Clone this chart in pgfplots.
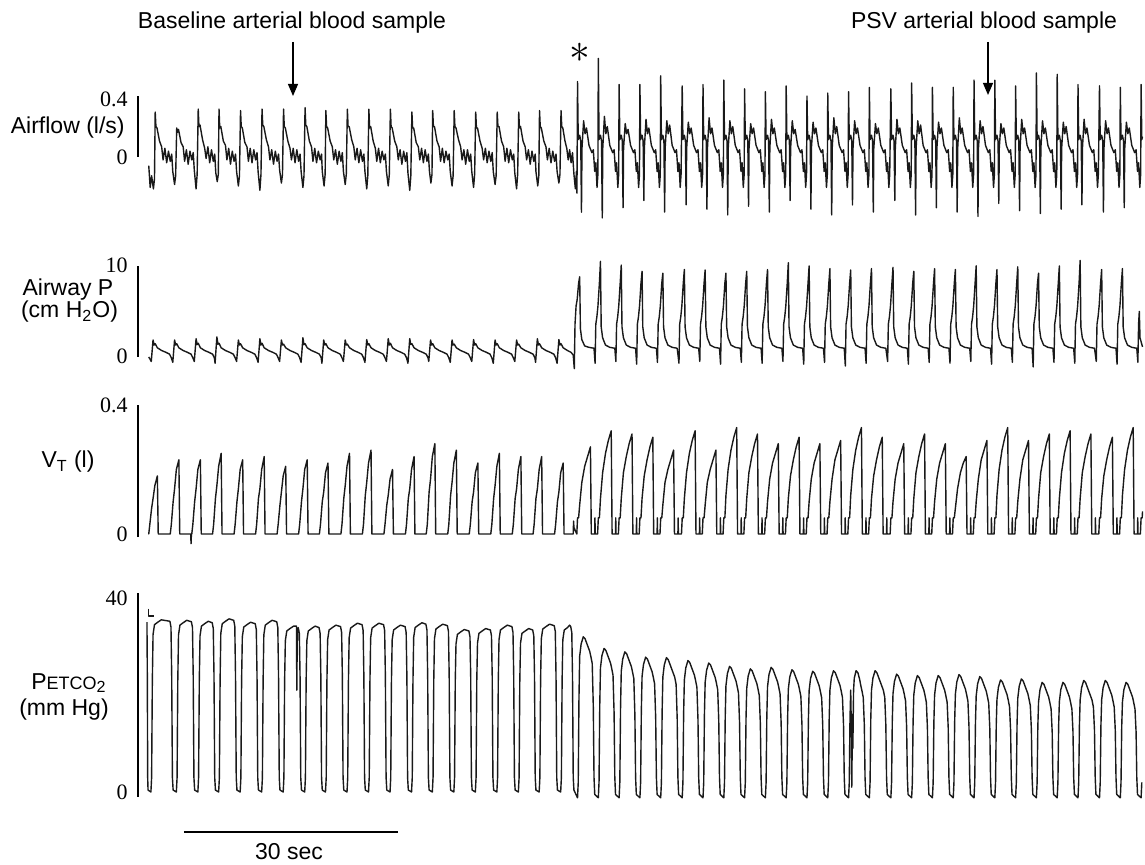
\documentclass[border=0pt]{standalone}
\usepackage{pgfplots}
\pgfplotsset{compat=1.18}
\usepackage{fontspec}
\setmainfont{Liberation Sans}
\newfontfamily\serifnum{Liberation Serif}
\usetikzlibrary{arrows.meta}

% one unit of the picture = 0.5pt = one pixel of the 1145x865 reference
\pgfplotsset{
  trace/.style={scale only axis, width=502.26pt, xmin=-1.7, xmax=138.4,
    hide axis, clip=false, anchor=south west},
  sig/.style={black!90, line width=0.7pt, line join=round, mark=none},
}
\tikzset{
  lab/.style={font=\fontsize{11.5}{13}\selectfont, inner sep=0pt},
  tk/.style={anchor=east, xshift=-5pt, inner sep=0pt, font=\serifnum\fontsize{11}{12}\selectfont},
  bar/.style={black, line width=1pt},
}

\begin{document}
\begin{tikzpicture}
\useasboundingbox (0,0) rectangle (572.5pt,432.5pt);

% ---------------- Airflow (l/s) ----------------
\begin{axis}[trace, at={(69pt,321.375pt)}, height=87pt, ymin=-0.45, ymax=0.75]
\addplot[sig] coordinates {
(-0.2,-0.06) (0.0,-0.21) (0.2,-0.13) (0.45,-0.22) (0.6,-0.15)
(0.7,0.31) (0.8,0.21) (0.95,0.2) (1.3,0.11) (1.6,0.07) (1.8,-0.02) (2.05,0.06) (2.3,-0.04) (2.55,0.04) (2.8,-0.03) (3.0,0.02) (3.15,-0.1) (3.4,-0.19) (3.55,-0.13)
(3.7,0.2) (3.8,0.17) (3.95,0.19) (4.3,0.1) (4.6,0.07) (4.8,-0.03) (5.05,0.05) (5.3,-0.05) (5.55,0.04) (5.8,-0.02) (6.0,0.03) (6.15,-0.09) (6.4,-0.22) (6.55,-0.12)
(6.7,0.33) (6.8,0.21) (6.95,0.22) (7.3,0.12) (7.6,0.06) (7.8,-0.01) (8.05,0.07) (8.3,-0.04) (8.55,0.05) (8.8,-0.03) (9.0,0.02) (9.15,-0.11) (9.35,-0.17) (9.5,-0.12)
(9.6,0.33) (9.7,0.2) (9.85,0.21) (10.2,0.11) (10.5,0.08) (10.7,-0.02) (10.95,0.06) (11.2,-0.05) (11.45,0.04) (11.7,-0.03) (11.9,0.02) (12.05,-0.1) (12.3,-0.2) (12.45,-0.13)
(12.6,0.32) (12.7,0.21) (12.85,0.2) (13.2,0.1) (13.5,0.07) (13.7,-0.03) (13.95,0.06) (14.2,-0.04) (14.45,0.05) (14.7,-0.02) (14.9,0.03) (15.05,-0.1) (15.3,-0.23) (15.45,-0.12)
(15.6,0.33) (15.7,0.22) (15.85,0.21) (16.2,0.12) (16.5,0.07) (16.7,-0.02) (16.95,0.05) (17.2,-0.05) (17.45,0.04) (17.7,-0.03) (17.9,0.02) (18.05,-0.09) (18.3,-0.18) (18.45,-0.12)
(18.6,0.33) (18.7,0.21) (18.85,0.2) (19.2,0.11) (19.5,0.06) (19.7,-0.02) (19.95,0.06) (20.2,-0.04) (20.45,0.05) (20.7,-0.03) (20.9,0.02) (21.05,-0.1) (21.3,-0.21) (21.45,-0.13)
(21.6,0.34) (21.7,0.22) (21.85,0.21) (22.2,0.11) (22.5,0.07) (22.7,-0.03) (22.95,0.06) (23.2,-0.04) (23.45,0.04) (23.7,-0.02) (23.9,0.02) (24.0,-0.1) (24.25,-0.2) (24.4,-0.12)
(24.5,0.32) (24.6,0.21) (24.75,0.2) (25.1,0.11) (25.4,0.07) (25.6,-0.02) (25.85,0.05) (26.1,-0.05) (26.35,0.04) (26.6,-0.03) (26.8,0.03) (26.95,-0.1) (27.2,-0.19) (27.35,-0.12)
(27.5,0.33) (27.6,0.21) (27.75,0.21) (28.1,0.12) (28.4,0.07) (28.6,-0.02) (28.85,0.06) (29.1,-0.04) (29.35,0.05) (29.6,-0.03) (29.8,0.02) (29.95,-0.1) (30.2,-0.22) (30.35,-0.13)
(30.5,0.33) (30.6,0.2) (30.75,0.21) (31.1,0.11) (31.4,0.06) (31.6,-0.03) (31.85,0.06) (32.1,-0.04) (32.35,0.04) (32.6,-0.02) (32.8,0.02) (32.95,-0.1) (33.2,-0.2) (33.35,-0.12)
(33.5,0.33) (33.6,0.21) (33.75,0.2) (34.1,0.11) (34.4,0.07) (34.6,-0.02) (34.85,0.05) (35.1,-0.05) (35.35,0.04) (35.6,-0.03) (35.8,0.03) (35.95,-0.11) (36.2,-0.23) (36.35,-0.13)
(36.5,0.31) (36.6,0.2) (36.75,0.2) (37.1,0.1) (37.4,0.07) (37.6,-0.02) (37.85,0.06) (38.1,-0.04) (38.35,0.05) (38.6,-0.03) (38.8,0.02) (38.95,-0.1) (39.15,-0.18) (39.3,-0.12)
(39.4,0.32) (39.5,0.21) (39.65,0.21) (40.0,0.11) (40.3,0.07) (40.5,-0.03) (40.75,0.06) (41.0,-0.04) (41.25,0.04) (41.5,-0.02) (41.7,0.02) (41.85,-0.1) (42.1,-0.2) (42.25,-0.13)
(42.4,0.32) (42.5,0.21) (42.65,0.2) (43.0,0.12) (43.3,0.07) (43.5,-0.02) (43.75,0.05) (44.0,-0.05) (44.25,0.05) (44.5,-0.03) (44.7,0.02) (44.85,-0.1) (45.1,-0.21) (45.25,-0.12)
(45.4,0.31) (45.5,0.2) (45.65,0.2) (46.0,0.11) (46.3,0.06) (46.5,-0.02) (46.75,0.06) (47.0,-0.04) (47.25,0.04) (47.5,-0.03) (47.7,0.03) (47.85,-0.1) (48.1,-0.19) (48.25,-0.13)
(48.4,0.31) (48.5,0.21) (48.65,0.21) (49.0,0.11) (49.3,0.07) (49.5,-0.03) (49.75,0.06) (50.0,-0.04) (50.25,0.05) (50.5,-0.02) (50.7,0.02) (50.85,-0.11) (51.1,-0.22) (51.25,-0.12)
(51.4,0.31) (51.5,0.2) (51.65,0.21) (52.0,0.11) (52.3,0.07) (52.5,-0.02) (52.75,0.05) (53.0,-0.05) (53.25,0.04) (53.5,-0.03) (53.7,0.02) (53.8,-0.1) (54.05,-0.2) (54.2,-0.13)
(54.3,0.32) (54.4,0.21) (54.55,0.2) (54.9,0.11) (55.2,0.07) (55.4,-0.02) (55.65,0.06) (55.9,-0.04) (56.15,0.04) (56.4,-0.03) (56.6,0.02) (56.75,-0.1) (57.0,-0.18) (57.15,-0.12)
(57.3,0.32) (57.4,0.21) (57.55,0.2) (57.85,0.11) (58.1,0.06) (58.3,-0.02) (58.5,0.05) (58.7,-0.04) (58.9,0.03) (59.1,-0.12) (59.3,-0.22) (59.45,-0.1) (59.52,-0.25)
(59.6,0.52) (59.7,0.12) (59.9,0.15) (60.05,0.11) (60.15,-0.38) (60.22,0.06) (60.45,0.25) (60.65,0.16) (60.85,0.2) (61.2,0.08) (61.6,0.03) (61.8,0.05) (62.0,-0.1) (62.15,-0.04) (62.32,-0.21) (62.44,-0.12)
(62.5,0.68) (62.6,0.12) (62.8,0.15) (62.95,0.11) (63.05,-0.42) (63.12,0.06) (63.35,0.28) (63.55,0.16) (63.75,0.21) (64.1,0.08) (64.5,0.03) (64.7,0.05) (64.9,-0.1) (65.05,-0.04) (65.22,-0.21) (65.34,-0.12)
(65.4,0.5) (65.5,0.12) (65.7,0.15) (65.85,0.11) (65.95,-0.35) (66.02,0.06) (66.25,0.23) (66.45,0.16) (66.65,0.19) (67.0,0.08) (67.4,0.03) (67.6,0.05) (67.8,-0.1) (67.95,-0.04) (68.12,-0.21) (68.24,-0.12)
(68.3,0.5) (68.4,0.12) (68.6,0.15) (68.75,0.11) (68.85,-0.3) (68.92,0.06) (69.15,0.26) (69.35,0.16) (69.55,0.2) (69.9,0.08) (70.3,0.03) (70.5,0.05) (70.7,-0.1) (70.85,-0.04) (71.02,-0.21) (71.14,-0.12)
(71.2,0.56) (71.3,0.12) (71.5,0.15) (71.65,0.11) (71.75,-0.38) (71.82,0.06) (72.05,0.25) (72.25,0.16) (72.45,0.22) (72.8,0.08) (73.2,0.03) (73.4,0.05) (73.6,-0.1) (73.75,-0.04) (73.92,-0.21) (74.04,-0.12)
(74.2,0.49) (74.3,0.12) (74.5,0.15) (74.65,0.11) (74.75,-0.33) (74.82,0.06) (75.05,0.24) (75.25,0.16) (75.45,0.2) (75.8,0.08) (76.2,0.03) (76.4,0.05) (76.6,-0.1) (76.75,-0.04) (76.92,-0.21) (77.04,-0.12)
(77.1,0.5) (77.2,0.12) (77.4,0.15) (77.55,0.11) (77.65,-0.36) (77.72,0.06) (77.95,0.27) (78.15,0.16) (78.35,0.2) (78.7,0.08) (79.1,0.03) (79.3,0.05) (79.5,-0.1) (79.65,-0.04) (79.82,-0.21) (79.94,-0.12)
(80.0,0.53) (80.1,0.12) (80.3,0.15) (80.45,0.11) (80.55,-0.4) (80.62,0.06) (80.85,0.25) (81.05,0.16) (81.25,0.21) (81.6,0.08) (82.0,0.03) (82.2,0.05) (82.4,-0.1) (82.55,-0.04) (82.72,-0.21) (82.84,-0.12)
(82.9,0.47) (83.0,0.12) (83.2,0.15) (83.35,0.11) (83.45,-0.34) (83.52,0.06) (83.75,0.23) (83.95,0.16) (84.15,0.2) (84.5,0.08) (84.9,0.03) (85.1,0.05) (85.3,-0.1) (85.45,-0.04) (85.62,-0.21) (85.74,-0.12)
(85.8,0.45) (85.9,0.12) (86.1,0.15) (86.25,0.11) (86.35,-0.38) (86.42,0.06) (86.65,0.26) (86.85,0.16) (87.05,0.2) (87.4,0.08) (87.8,0.03) (88.0,0.05) (88.2,-0.1) (88.35,-0.04) (88.52,-0.21) (88.64,-0.12)
(88.7,0.49) (88.8,0.12) (89.0,0.15) (89.15,0.11) (89.25,-0.3) (89.32,0.06) (89.55,0.25) (89.75,0.16) (89.95,0.19) (90.3,0.08) (90.7,0.03) (90.9,0.05) (91.1,-0.1) (91.25,-0.04) (91.42,-0.21) (91.54,-0.12)
(91.6,0.42) (91.7,0.12) (91.9,0.15) (92.05,0.11) (92.15,-0.36) (92.22,0.06) (92.45,0.24) (92.65,0.16) (92.85,0.2) (93.2,0.08) (93.6,0.03) (93.8,0.05) (94.0,-0.1) (94.15,-0.04) (94.32,-0.21) (94.44,-0.12)
(94.5,0.44) (94.6,0.12) (94.8,0.15) (94.95,0.11) (95.05,-0.4) (95.12,0.06) (95.35,0.27) (95.55,0.16) (95.75,0.21) (96.1,0.08) (96.5,0.03) (96.7,0.05) (96.9,-0.1) (97.05,-0.04) (97.22,-0.21) (97.34,-0.12)
(97.4,0.45) (97.5,0.12) (97.7,0.15) (97.85,0.11) (97.95,-0.33) (98.02,0.06) (98.25,0.25) (98.45,0.16) (98.65,0.2) (99.0,0.08) (99.4,0.03) (99.6,0.05) (99.8,-0.1) (99.95,-0.04) (100.12,-0.21) (100.24,-0.12)
(100.3,0.48) (100.4,0.12) (100.6,0.15) (100.75,0.11) (100.85,-0.38) (100.92,0.06) (101.15,0.23) (101.35,0.16) (101.55,0.2) (101.9,0.08) (102.3,0.03) (102.5,0.05) (102.7,-0.1) (102.85,-0.04) (103.02,-0.21) (103.14,-0.12)
(103.3,0.47) (103.4,0.12) (103.6,0.15) (103.75,0.11) (103.85,-0.3) (103.92,0.06) (104.15,0.26) (104.35,0.16) (104.55,0.2) (104.9,0.08) (105.3,0.03) (105.5,0.05) (105.7,-0.1) (105.85,-0.04) (106.02,-0.21) (106.14,-0.12)
(106.2,0.51) (106.3,0.12) (106.5,0.15) (106.65,0.11) (106.75,-0.4) (106.82,0.06) (107.05,0.25) (107.25,0.16) (107.45,0.22) (107.8,0.08) (108.2,0.03) (108.4,0.05) (108.6,-0.1) (108.75,-0.04) (108.92,-0.21) (109.04,-0.12)
(109.1,0.48) (109.2,0.12) (109.4,0.15) (109.55,0.11) (109.65,-0.35) (109.72,0.06) (109.95,0.24) (110.15,0.16) (110.35,0.2) (110.7,0.08) (111.1,0.03) (111.3,0.05) (111.5,-0.1) (111.65,-0.04) (111.82,-0.21) (111.94,-0.12)
(112.0,0.48) (112.1,0.12) (112.3,0.15) (112.45,0.11) (112.55,-0.38) (112.62,0.06) (112.85,0.27) (113.05,0.16) (113.25,0.2) (113.6,0.08) (114.0,0.03) (114.2,0.05) (114.4,-0.1) (114.55,-0.04) (114.72,-0.21) (114.84,-0.12)
(114.9,0.53) (115.0,0.12) (115.2,0.15) (115.35,0.11) (115.45,-0.41) (115.52,0.06) (115.75,0.25) (115.95,0.16) (116.15,0.21) (116.5,0.08) (116.9,0.03) (117.1,0.05) (117.3,-0.1) (117.45,-0.04) (117.62,-0.21) (117.74,-0.12)
(117.8,0.53) (117.9,0.12) (118.1,0.15) (118.25,0.11) (118.35,-0.32) (118.42,0.06) (118.65,0.23) (118.85,0.16) (119.05,0.2) (119.4,0.08) (119.8,0.03) (120.0,0.05) (120.2,-0.1) (120.35,-0.04) (120.52,-0.21) (120.64,-0.12)
(120.7,0.49) (120.8,0.12) (121.0,0.15) (121.15,0.11) (121.25,-0.37) (121.32,0.06) (121.55,0.26) (121.75,0.16) (121.95,0.2) (122.3,0.08) (122.7,0.03) (122.9,0.05) (123.1,-0.1) (123.25,-0.04) (123.42,-0.21) (123.54,-0.12)
(123.6,0.58) (123.7,0.12) (123.9,0.15) (124.05,0.11) (124.15,-0.39) (124.22,0.06) (124.45,0.25) (124.65,0.16) (124.85,0.2) (125.2,0.08) (125.6,0.03) (125.8,0.05) (126.0,-0.1) (126.15,-0.04) (126.32,-0.21) (126.44,-0.12)
(126.5,0.57) (126.6,0.12) (126.8,0.15) (126.95,0.11) (127.05,-0.36) (127.12,0.06) (127.35,0.24) (127.55,0.16) (127.75,0.21) (128.1,0.08) (128.5,0.03) (128.7,0.05) (128.9,-0.1) (129.05,-0.04) (129.22,-0.21) (129.34,-0.12)
(129.4,0.5) (129.5,0.12) (129.7,0.15) (129.85,0.11) (129.95,-0.33) (130.02,0.06) (130.25,0.26) (130.45,0.16) (130.65,0.2) (131.0,0.08) (131.4,0.03) (131.6,0.05) (131.8,-0.1) (131.95,-0.04) (132.12,-0.21) (132.24,-0.12)
(132.4,0.49) (132.5,0.12) (132.7,0.15) (132.85,0.11) (132.95,-0.38) (133.02,0.06) (133.25,0.25) (133.45,0.16) (133.65,0.2) (134.0,0.08) (134.4,0.03) (134.6,0.05) (134.8,-0.1) (134.95,-0.04) (135.12,-0.21) (135.24,-0.12)
(135.3,0.48) (135.4,0.12) (135.6,0.15) (135.75,0.11) (135.85,-0.35) (135.92,0.06) (136.15,0.24) (136.35,0.16) (136.55,0.2) (136.9,0.08) (137.3,0.03) (137.5,0.05) (137.7,-0.1) (137.85,-0.04) (138.02,-0.21) (138.14,-0.12)
(138.2,0.5) (138.3,0.12) (138.4,0.14)
};
\draw[bar] (axis cs:-1.7,0) -- (axis cs:-1.7,0.42);
\node[tk] at (axis cs:-1.7,0.4) {0.4};
\node[tk] at (axis cs:-1.7,0) {0};
\end{axis}

% ---------------- Airway P (cm H2O) ----------------
\begin{axis}[trace, at={(69pt,247.22pt)}, height=57.33pt, ymin=-1.6, ymax=11]
\addplot[sig] coordinates {
(-0.2,-0.1) (0.15,-0.6) (0.4,1.76) (0.55,1.2) (0.7,1.35) (1.0,0.9) (1.6,0.6) (2.2,0.4) (2.7,0.2) (2.95,-0.2)
(3.15,-0.7) (3.4,1.76) (3.55,1.2) (3.7,1.35) (4.0,0.9) (4.6,0.6) (5.2,0.4) (5.7,0.2) (5.95,-0.2)
(6.15,-0.6) (6.4,1.9) (6.55,1.25) (6.7,1.4) (7.0,0.9) (7.6,0.6) (8.2,0.4) (8.7,0.2) (8.95,-0.2)
(9.05,-0.8) (9.3,2.1) (9.45,1.3) (9.6,1.4) (9.9,0.9) (10.5,0.6) (11.1,0.4) (11.6,0.2) (11.85,-0.2)
(12.05,-0.6) (12.3,1.76) (12.45,1.2) (12.6,1.35) (12.9,0.9) (13.5,0.6) (14.1,0.4) (14.6,0.2) (14.85,-0.2)
(15.05,-0.7) (15.3,1.9) (15.45,1.2) (15.6,1.4) (15.9,0.9) (16.5,0.6) (17.1,0.4) (17.6,0.2) (17.85,-0.2)
(18.05,-0.6) (18.3,1.76) (18.45,1.2) (18.6,1.3) (18.9,0.9) (19.5,0.6) (20.1,0.4) (20.6,0.2) (20.85,-0.2)
(21.05,-0.7) (21.3,2.0) (21.45,1.25) (21.6,1.35) (21.9,0.9) (22.5,0.6) (23.1,0.4) (23.6,0.2) (23.85,-0.2)
(23.95,-0.8) (24.2,1.76) (24.35,1.2) (24.5,1.35) (24.8,0.9) (25.4,0.6) (26.0,0.4) (26.5,0.2) (26.75,-0.2)
(26.95,-0.6) (27.2,1.76) (27.35,1.2) (27.5,1.3) (27.8,0.9) (28.4,0.6) (29.0,0.4) (29.5,0.2) (29.75,-0.2)
(29.95,-0.7) (30.2,1.8) (30.35,1.2) (30.5,1.35) (30.8,0.9) (31.4,0.6) (32.0,0.4) (32.5,0.2) (32.75,-0.2)
(32.95,-0.6) (33.2,1.9) (33.35,1.2) (33.5,1.4) (33.8,0.9) (34.4,0.6) (35.0,0.4) (35.5,0.2) (35.75,-0.2)
(35.95,-0.8) (36.2,1.9) (36.35,1.25) (36.5,1.35) (36.8,0.9) (37.4,0.6) (38.0,0.4) (38.5,0.2) (38.75,-0.2)
(38.85,-0.6) (39.1,1.76) (39.25,1.2) (39.4,1.35) (39.7,0.9) (40.3,0.6) (40.9,0.4) (41.4,0.2) (41.65,-0.2)
(41.85,-0.7) (42.1,1.76) (42.25,1.2) (42.4,1.3) (42.7,0.9) (43.3,0.6) (43.9,0.4) (44.4,0.2) (44.65,-0.2)
(44.85,-0.6) (45.1,1.8) (45.25,1.2) (45.4,1.35) (45.7,0.9) (46.3,0.6) (46.9,0.4) (47.4,0.2) (47.65,-0.2)
(47.85,-0.8) (48.1,1.76) (48.25,1.2) (48.4,1.35) (48.7,0.9) (49.3,0.6) (49.9,0.4) (50.4,0.2) (50.65,-0.2)
(50.85,-0.6) (51.1,1.76) (51.25,1.2) (51.4,1.3) (51.7,0.9) (52.3,0.6) (52.9,0.4) (53.4,0.2) (53.65,-0.2)
(53.75,-0.7) (54.0,1.9) (54.15,1.2) (54.3,1.35) (54.6,0.9) (55.2,0.6) (55.8,0.4) (56.3,0.2) (56.55,-0.2)
(56.75,-0.8) (57.0,1.8) (57.15,1.2) (57.3,1.35) (57.6,0.9) (58.2,0.6) (58.7,0.4) (59.0,0.1)
(59.15,-1.4) (59.25,3.5) (59.4,5.5) (59.55,6.2) (59.75,8.0) (59.9,8.7) (60.0,3.0) (60.2,1.8) (60.6,1.1) (61.2,0.95) (61.9,0.85)
(62.05,-0.8) (62.15,3.5) (62.3,4.3) (62.45,5.5) (62.65,8.0) (62.8,10.4) (62.9,3.2) (63.1,2.0) (63.5,1.2) (64.1,0.95) (64.8,0.85)
(64.95,-0.6) (65.05,3.5) (65.2,4.3) (65.35,5.5) (65.55,8.0) (65.7,10.0) (65.8,3.2) (66.0,2.0) (66.4,1.2) (67.0,0.95) (67.7,0.85)
(67.85,-0.9) (67.95,3.5) (68.1,4.3) (68.25,5.5) (68.45,8.0) (68.6,9.3) (68.7,3.2) (68.9,2.0) (69.3,1.2) (69.9,0.95) (70.6,0.85)
(70.75,-0.7) (70.85,3.5) (71.0,4.3) (71.15,5.5) (71.35,8.0) (71.5,9.1) (71.6,3.2) (71.8,2.0) (72.2,1.2) (72.8,0.95) (73.5,0.85)
(73.75,-0.8) (73.85,3.5) (74.0,4.3) (74.15,5.5) (74.35,8.0) (74.5,9.5) (74.6,3.2) (74.8,2.0) (75.2,1.2) (75.8,0.95) (76.5,0.85)
(76.65,-0.6) (76.75,3.5) (76.9,4.3) (77.05,5.5) (77.25,8.0) (77.4,9.45) (77.5,3.2) (77.7,2.0) (78.1,1.2) (78.7,0.95) (79.4,0.85)
(79.55,-0.9) (79.65,3.5) (79.8,4.3) (79.95,5.5) (80.15,8.0) (80.3,9.1) (80.4,3.2) (80.6,2.0) (81.0,1.2) (81.6,0.95) (82.3,0.85)
(82.45,-0.7) (82.55,3.5) (82.7,4.3) (82.85,5.5) (83.05,8.0) (83.2,9.3) (83.3,3.2) (83.5,2.0) (83.9,1.2) (84.5,0.95) (85.2,0.85)
(85.35,-0.8) (85.45,3.5) (85.6,4.3) (85.75,5.5) (85.95,8.0) (86.1,9.5) (86.2,3.2) (86.4,2.0) (86.8,1.2) (87.4,0.95) (88.1,0.85)
(88.25,-0.6) (88.35,3.5) (88.5,4.3) (88.65,5.5) (88.85,8.0) (89.0,10.25) (89.1,3.2) (89.3,2.0) (89.7,1.2) (90.3,0.95) (91.0,0.85)
(91.15,-0.9) (91.25,3.5) (91.4,4.3) (91.55,5.5) (91.75,8.0) (91.9,9.9) (92.0,3.2) (92.2,2.0) (92.6,1.2) (93.2,0.95) (93.9,0.85)
(94.05,-0.7) (94.15,3.5) (94.3,4.3) (94.45,5.5) (94.65,8.0) (94.8,9.6) (94.9,3.2) (95.1,2.0) (95.5,1.2) (96.1,0.95) (96.8,0.85)
(96.95,-1.1) (97.05,3.5) (97.2,4.3) (97.35,5.5) (97.55,8.0) (97.7,9.45) (97.8,3.2) (98.0,2.0) (98.4,1.2) (99.0,0.95) (99.7,0.85)
(99.85,-0.8) (99.95,3.5) (100.1,4.3) (100.25,5.5) (100.45,8.0) (100.6,9.6) (100.7,3.2) (100.9,2.0) (101.3,1.2) (101.9,0.95) (102.6,0.85)
(102.85,-0.6) (102.95,3.5) (103.1,4.3) (103.25,5.5) (103.45,8.0) (103.6,9.75) (103.7,3.2) (103.9,2.0) (104.3,1.2) (104.9,0.95) (105.6,0.85)
(105.75,-0.9) (105.85,3.5) (106.0,4.3) (106.15,5.5) (106.35,8.0) (106.5,9.3) (106.6,3.2) (106.8,2.0) (107.2,1.2) (107.8,0.95) (108.5,0.85)
(108.65,-0.7) (108.75,3.5) (108.9,4.3) (109.05,5.5) (109.25,8.0) (109.4,9.6) (109.5,3.2) (109.7,2.0) (110.1,1.2) (110.7,0.95) (111.4,0.85)
(111.55,-0.8) (111.65,3.5) (111.8,4.3) (111.95,5.5) (112.15,8.0) (112.3,9.5) (112.4,3.2) (112.6,2.0) (113.0,1.2) (113.6,0.95) (114.3,0.85)
(114.45,-0.6) (114.55,3.5) (114.7,4.3) (114.85,5.5) (115.05,8.0) (115.2,9.9) (115.3,3.2) (115.5,2.0) (115.9,1.2) (116.5,0.95) (117.2,0.85)
(117.35,-0.9) (117.45,3.5) (117.6,4.3) (117.75,5.5) (117.95,8.0) (118.1,9.5) (118.2,3.2) (118.4,2.0) (118.8,1.2) (119.4,0.95) (120.1,0.85)
(120.25,-0.7) (120.35,3.5) (120.5,4.3) (120.65,5.5) (120.85,8.0) (121.0,9.8) (121.1,3.2) (121.3,2.0) (121.7,1.2) (122.3,0.95) (123.0,0.85)
(123.15,-1.2) (123.25,3.5) (123.4,4.3) (123.55,5.5) (123.75,8.0) (123.9,9.1) (124.0,3.2) (124.2,2.0) (124.6,1.2) (125.2,0.95) (125.9,0.85)
(126.05,-0.7) (126.15,3.5) (126.3,4.3) (126.45,5.5) (126.65,8.0) (126.8,9.9) (126.9,3.2) (127.1,2.0) (127.5,1.2) (128.1,0.95) (128.8,0.85)
(128.95,-0.8) (129.05,3.5) (129.2,4.3) (129.35,5.5) (129.55,8.0) (129.7,10.5) (129.8,3.2) (130.0,2.0) (130.4,1.2) (131.0,0.95) (131.7,0.85)
(131.95,-0.6) (132.05,3.5) (132.2,4.3) (132.35,5.5) (132.55,8.0) (132.7,9.5) (132.8,3.2) (133.0,2.0) (133.4,1.2) (134.0,0.95) (134.7,0.85)
(134.85,-0.9) (134.95,3.5) (135.1,4.3) (135.25,5.5) (135.45,8.0) (135.6,9.6) (135.7,3.2) (135.9,2.0) (136.3,1.2) (136.9,0.95) (137.6,0.85)
(137.75,-0.7) (137.85,3.5) (137.95,4.9) (138.05,2.0) (138.4,1.0)
};
\draw[bar] (axis cs:-1.7,-0.1) -- (axis cs:-1.7,9.9);
\node[tk] at (axis cs:-1.7,10) {10};
\node[tk] at (axis cs:-1.7,0) {0};
\end{axis}

% ---------------- VT (l) ----------------
\begin{axis}[trace, at={(69pt,157.44pt)}, height=75.79pt, ymin=-0.05, ymax=0.42]
\addplot[sig] coordinates {
(-0.25,0) (-0.2,0) (-0.05,0.03) (0.2,0.08) (0.4,0.11) (0.65,0.15) (1.0,0.18) (1.12,0)
(2.8,0) (2.95,0.03) (3.2,0.1) (3.4,0.14) (3.65,0.2) (4.0,0.23) (4.12,0)
(5.65,0) (5.7,-0.03) (5.75,0) (5.8,0) (5.95,0.03) (6.2,0.1) (6.4,0.14) (6.65,0.2) (7.0,0.23) (7.12,0)
(8.7,0) (8.85,0.03) (9.1,0.11) (9.3,0.15) (9.55,0.21) (9.9,0.25) (10.02,0)
(11.7,0) (11.85,0.03) (12.1,0.1) (12.3,0.14) (12.55,0.2) (12.9,0.23) (13.02,0)
(14.7,0) (14.85,0.03) (15.1,0.11) (15.3,0.14) (15.55,0.2) (15.9,0.24) (16.02,0)
(17.7,0) (17.85,0.03) (18.1,0.09) (18.3,0.13) (18.55,0.18) (18.9,0.21) (19.02,0)
(20.7,0) (20.85,0.03) (21.1,0.1) (21.3,0.14) (21.55,0.2) (21.9,0.23) (22.02,0)
(23.6,0) (23.75,0.03) (24.0,0.1) (24.2,0.13) (24.45,0.19) (24.8,0.22) (24.92,0)
(26.6,0) (26.75,0.03) (27.0,0.11) (27.2,0.15) (27.45,0.21) (27.8,0.25) (27.92,0)
(29.6,0) (29.75,0.03) (30.0,0.12) (30.2,0.16) (30.45,0.22) (30.8,0.26) (30.92,0)
(32.6,0) (32.75,0.03) (33.0,0.09) (33.2,0.12) (33.45,0.17) (33.8,0.2) (33.92,0)
(35.6,0) (35.75,0.03) (36.0,0.11) (36.2,0.14) (36.45,0.2) (36.8,0.24) (36.92,0)
(38.5,0) (38.65,0.03) (38.9,0.13) (39.1,0.17) (39.35,0.24) (39.7,0.28) (39.82,0)
(41.5,0) (41.65,0.03) (41.9,0.12) (42.1,0.16) (42.35,0.22) (42.7,0.26) (42.82,0)
(44.5,0) (44.65,0.03) (44.9,0.1) (45.1,0.13) (45.35,0.19) (45.7,0.22) (45.82,0)
(47.5,0) (47.65,0.03) (47.9,0.11) (48.1,0.15) (48.35,0.21) (48.7,0.25) (48.82,0)
(50.5,0) (50.65,0.03) (50.9,0.11) (51.1,0.14) (51.35,0.2) (51.7,0.24) (51.82,0)
(53.4,0) (53.55,0.03) (53.8,0.11) (54.0,0.14) (54.25,0.2) (54.6,0.24) (54.72,0)
(56.4,0) (56.55,0.03) (56.8,0.1) (57.0,0.13) (57.25,0.19) (57.6,0.22) (57.72,0)
(59.0,0) (59.05,0.04) (59.1,0.02)
(59.5,0) (59.6,0.05) (59.75,0.05) (59.9,0.09) (60.2,0.16) (60.6,0.21) (61.0,0.24) (61.4,0.27) (61.52,0) (62.0,0) (62.03,0.05) (62.07,0)
(62.4,0) (62.5,0.05) (62.65,0.05) (62.8,0.11) (63.1,0.19) (63.5,0.25) (63.9,0.29) (64.3,0.32) (64.42,0) (64.9,0) (64.93,0.05) (64.97,0)
(65.3,0) (65.4,0.05) (65.55,0.05) (65.7,0.11) (66.0,0.19) (66.4,0.24) (66.8,0.28) (67.2,0.31) (67.32,0) (67.8,0) (67.83,0.05) (67.87,0)
(68.2,0) (68.3,0.05) (68.45,0.05) (68.6,0.11) (68.9,0.18) (69.3,0.23) (69.7,0.27) (70.1,0.3) (70.22,0) (70.7,0) (70.73,0.05) (70.77,0)
(71.1,0) (71.2,0.05) (71.35,0.05) (71.5,0.09) (71.8,0.16) (72.2,0.2) (72.6,0.23) (73.0,0.26) (73.12,0) (73.6,0) (73.63,0.05) (73.67,0)
(74.1,0) (74.2,0.05) (74.35,0.05) (74.5,0.11) (74.8,0.19) (75.2,0.25) (75.6,0.29) (76.0,0.32) (76.12,0) (76.6,0) (76.63,0.05) (76.67,0)
(77.0,0) (77.1,0.05) (77.25,0.05) (77.4,0.09) (77.7,0.16) (78.1,0.2) (78.5,0.23) (78.9,0.26) (79.02,0) (79.5,0) (79.53,0.05) (79.57,0)
(79.9,0) (80.0,0.05) (80.15,0.05) (80.3,0.12) (80.6,0.2) (81.0,0.26) (81.4,0.3) (81.8,0.33) (81.92,0) (82.4,0) (82.43,0.05) (82.47,0)
(82.8,0) (82.9,0.05) (83.05,0.05) (83.2,0.11) (83.5,0.19) (83.9,0.24) (84.3,0.28) (84.7,0.31) (84.82,0) (85.3,0) (85.33,0.05) (85.37,0)
(85.7,0) (85.8,0.05) (85.95,0.05) (86.1,0.1) (86.4,0.17) (86.8,0.22) (87.2,0.25) (87.6,0.28) (87.72,0) (88.2,0) (88.23,0.05) (88.27,0)
(88.6,0) (88.7,0.05) (88.85,0.05) (89.0,0.11) (89.3,0.18) (89.7,0.23) (90.1,0.27) (90.5,0.3) (90.62,0) (91.1,0) (91.13,0.05) (91.17,0)
(91.5,0) (91.6,0.05) (91.75,0.05) (91.9,0.1) (92.2,0.17) (92.6,0.22) (93.0,0.25) (93.4,0.28) (93.52,0) (94.0,0) (94.03,0.05) (94.07,0)
(94.4,0) (94.5,0.05) (94.65,0.05) (94.8,0.1) (95.1,0.17) (95.5,0.23) (95.9,0.26) (96.3,0.29) (96.42,0) (96.9,0) (96.93,0.05) (96.97,0)
(97.3,0) (97.4,0.05) (97.55,0.05) (97.7,0.12) (98.0,0.2) (98.4,0.26) (98.8,0.3) (99.2,0.33) (99.32,0) (99.8,0) (99.83,0.05) (99.87,0)
(100.2,0) (100.3,0.05) (100.45,0.05) (100.6,0.11) (100.9,0.18) (101.3,0.23) (101.7,0.27) (102.1,0.3) (102.22,0) (102.7,0) (102.73,0.05) (102.77,0)
(103.2,0) (103.3,0.05) (103.45,0.05) (103.6,0.1) (103.9,0.17) (104.3,0.22) (104.7,0.25) (105.1,0.28) (105.22,0) (105.7,0) (105.73,0.05) (105.77,0)
(106.1,0) (106.2,0.05) (106.35,0.05) (106.5,0.11) (106.8,0.19) (107.2,0.24) (107.6,0.28) (108.0,0.31) (108.12,0) (108.6,0) (108.63,0.05) (108.67,0)
(109.0,0) (109.1,0.05) (109.25,0.05) (109.4,0.1) (109.7,0.17) (110.1,0.22) (110.5,0.25) (110.9,0.28) (111.02,0) (111.5,0) (111.53,0.05) (111.57,0)
(111.9,0) (112.0,0.05) (112.15,0.05) (112.3,0.08) (112.6,0.14) (113.0,0.19) (113.4,0.22) (113.8,0.24) (113.92,0) (114.4,0) (114.43,0.05) (114.47,0)
(114.8,0) (114.9,0.05) (115.05,0.05) (115.2,0.1) (115.5,0.17) (115.9,0.23) (116.3,0.26) (116.7,0.29) (116.82,0) (117.3,0) (117.33,0.05) (117.37,0)
(117.7,0) (117.8,0.05) (117.95,0.05) (118.1,0.12) (118.4,0.2) (118.8,0.26) (119.2,0.3) (119.6,0.33) (119.72,0) (120.2,0) (120.23,0.05) (120.27,0)
(120.6,0) (120.7,0.05) (120.85,0.05) (121.0,0.1) (121.3,0.17) (121.7,0.23) (122.1,0.26) (122.5,0.29) (122.62,0) (123.1,0) (123.13,0.05) (123.17,0)
(123.5,0) (123.6,0.05) (123.75,0.05) (123.9,0.11) (124.2,0.19) (124.6,0.24) (125.0,0.28) (125.4,0.31) (125.52,0) (126.0,0) (126.03,0.05) (126.07,0)
(126.4,0) (126.5,0.05) (126.65,0.05) (126.8,0.11) (127.1,0.19) (127.5,0.25) (127.9,0.29) (128.3,0.32) (128.42,0) (128.9,0) (128.93,0.05) (128.97,0)
(129.3,0) (129.4,0.05) (129.55,0.05) (129.7,0.11) (130.0,0.19) (130.4,0.24) (130.8,0.28) (131.2,0.31) (131.32,0) (131.8,0) (131.83,0.05) (131.87,0)
(132.3,0) (132.4,0.05) (132.55,0.05) (132.7,0.11) (133.0,0.18) (133.4,0.23) (133.8,0.27) (134.2,0.3) (134.32,0) (134.8,0) (134.83,0.05) (134.87,0)
(135.2,0) (135.3,0.05) (135.45,0.05) (135.6,0.12) (135.9,0.2) (136.3,0.26) (136.7,0.3) (137.1,0.33) (137.22,0) (137.7,0) (137.73,0.05) (137.77,0)
(138.1,0) (138.2,0.05) (138.35,0.05) (138.4,0.07)
};
\draw[bar] (axis cs:-1.7,-0.01) -- (axis cs:-1.7,0.4);
\node[tk] at (axis cs:-1.7,0.4) {0.4};
\node[tk] at (axis cs:-1.7,0) {0};
\end{axis}

% ---------------- PETCO2 (mm Hg) ----------------
\begin{axis}[trace, at={(69pt,29.225pt)}, height=106.7pt, ymin=-3, ymax=41]
\addplot[sig] coordinates {
(-0.45,35.0) (-0.4,24) (-0.35,3) (-0.3,0.4) (0.1,0.0) (0.2,3) (0.3,23) (0.4,32.5) (0.6,34.5) (1.05,35.0) (1.55,35.5)
(2.75,35.2) (2.9,34.0) (3.0,24) (3.1,3) (3.2,0.4) (3.65,0) (3.75,3) (3.85,23) (3.95,32.4) (4.15,34.4) (4.6,34.9) (5.1,35.4)
(5.75,35.1) (5.9,33.9) (6.0,24) (6.1,3) (6.2,0.4) (6.65,0) (6.75,3) (6.85,23) (6.95,32.2) (7.15,34.2) (7.6,34.7) (8.1,35.2)
(8.65,34.9) (8.8,33.7) (8.9,24) (9.0,3) (9.1,0.4) (9.55,0) (9.65,3) (9.75,23) (9.85,32.7) (10.05,34.7) (10.5,35.2) (11.0,35.7)
(11.65,35.4) (11.8,34.2) (11.9,24) (12.0,3) (12.1,0.4) (12.55,0) (12.65,3) (12.75,23) (12.85,32.0) (13.05,34.0) (13.5,34.5) (14.0,35.0)
(14.65,34.7) (14.8,33.5) (14.9,24) (15.0,3) (15.1,0.4) (15.55,0) (15.65,3) (15.75,23) (15.85,32.4) (16.05,34.4) (16.5,34.9) (17.0,35.4)
(17.65,35.1) (17.8,33.9) (17.9,24) (18.0,3) (18.1,0.4) (18.55,0) (18.65,3) (18.75,23) (18.85,31.2) (19.05,33.2) (19.5,33.7) (20.0,34.2)
(20.4,34.2) (20.45,21) (20.5,30) (20.55,33.5) (20.65,33.9) (20.8,32.7) (20.9,24) (21.0,3) (21.1,0.4) (21.55,0) (21.65,3) (21.75,23) (21.85,31.2) (22.05,33.2) (22.5,33.7) (23.0,34.2)
(23.55,33.9) (23.7,32.7) (23.8,24) (23.9,3) (24.0,0.4) (24.45,0) (24.55,3) (24.65,23) (24.75,31.4) (24.95,33.4) (25.4,33.9) (25.9,34.4)
(26.55,34.1) (26.7,32.9) (26.8,24) (26.9,3) (27.0,0.4) (27.45,0) (27.55,3) (27.65,23) (27.75,31.8) (27.95,33.8) (28.4,34.3) (28.9,34.8)
(29.55,34.5) (29.7,33.3) (29.8,24) (29.9,3) (30.0,0.4) (30.45,0) (30.55,3) (30.65,23) (30.75,31.8) (30.95,33.8) (31.4,34.3) (31.9,34.8)
(32.55,34.5) (32.7,33.3) (32.8,24) (32.9,3) (33.0,0.4) (33.45,0) (33.55,3) (33.65,23) (33.75,31.4) (33.95,33.4) (34.4,33.9) (34.9,34.4)
(35.55,34.1) (35.7,32.9) (35.8,24) (35.9,3) (36.0,0.4) (36.45,0) (36.55,3) (36.65,23) (36.75,31.9) (36.95,33.9) (37.4,34.4) (37.9,34.9)
(38.45,34.6) (38.6,33.4) (38.7,24) (38.8,3) (38.9,0.4) (39.35,0) (39.45,3) (39.55,23) (39.65,31.6) (39.85,33.6) (40.3,34.1) (40.8,34.6)
(41.45,34.3) (41.6,33.1) (41.7,24) (41.8,3) (41.9,0.4) (42.35,0) (42.45,3) (42.55,23) (42.65,30.5) (42.85,32.5) (43.3,33.0) (43.8,33.5)
(44.45,33.2) (44.6,32.0) (44.7,24) (44.8,3) (44.9,0.4) (45.35,0) (45.45,3) (45.55,23) (45.65,30.7) (45.85,32.7) (46.3,33.2) (46.8,33.7)
(47.45,33.4) (47.6,32.2) (47.7,24) (47.8,3) (47.9,0.4) (48.35,0) (48.45,3) (48.55,23) (48.65,31.4) (48.85,33.4) (49.3,33.9) (49.8,34.4)
(50.45,34.1) (50.6,32.9) (50.7,24) (50.8,3) (50.9,0.4) (51.35,0) (51.45,3) (51.55,23) (51.65,30.7) (51.85,32.7) (52.3,33.2) (52.8,33.7)
(53.35,33.4) (53.5,32.2) (53.6,24) (53.7,3) (53.8,0.4) (54.25,0) (54.35,3) (54.45,23) (54.55,31.6) (54.75,33.6) (55.2,34.1) (55.7,34.6)
(56.35,34.3) (56.5,33.1) (56.6,24) (56.7,3) (56.8,0.4) (57.25,0) (57.35,3) (57.45,23) (57.55,31.4) (57.75,33.4) (58.2,33.9) (58.5,34.4)
(58.65,34.1) (58.8,32.9) (58.9,24) (59.0,3) (59.1,0.4) (59.6,-1.2) (59.7,2) (59.8,19.2) (59.9,28.0) (60.1,30.5) (60.4,32.0) (60.65,31.6) (61.0,30.2) (61.3,29.0)
(61.45,28.0) (61.65,26.5) (61.8,17.6) (61.9,3) (62.0,-0.5) (62.5,-1.2) (62.6,2) (62.7,17.8) (62.8,25.6) (63.0,28.1) (63.3,29.6) (63.55,29.2) (63.9,27.8) (64.2,26.6)
(64.35,25.6) (64.55,24.1) (64.7,16.3) (64.8,3) (64.9,-0.5) (65.4,-1.2) (65.5,2) (65.6,17.3) (65.7,24.9) (65.9,27.4) (66.2,28.9) (66.45,28.5) (66.8,27.1) (67.1,25.9)
(67.25,24.9) (67.45,23.4) (67.6,15.9) (67.7,3) (67.8,-0.5) (68.3,-1.2) (68.4,2) (68.5,16.7) (68.6,23.8) (68.8,26.3) (69.1,27.8) (69.35,27.4) (69.7,26.0) (70.0,24.8)
(70.15,23.8) (70.35,22.3) (70.5,15.3) (70.6,3) (70.7,-0.5) (71.2,-1.2) (71.3,2) (71.4,16.6) (71.5,23.7) (71.7,26.2) (72.0,27.7) (72.25,27.3) (72.6,25.9) (72.9,24.7)
(73.15,23.7) (73.35,22.2) (73.5,15.2) (73.6,3) (73.7,-0.5) (74.2,-1.2) (74.3,2) (74.4,16.3) (74.5,23.1) (74.7,25.6) (75.0,27.1) (75.25,26.7) (75.6,25.3) (75.9,24.1)
(76.05,23.1) (76.25,21.6) (76.4,14.9) (76.5,3) (76.6,-0.5) (77.1,-1.2) (77.2,2) (77.3,16.0) (77.4,22.6) (77.6,25.1) (77.9,26.6) (78.15,26.2) (78.5,24.8) (78.8,23.6)
(78.95,22.6) (79.15,21.1) (79.3,14.6) (79.4,3) (79.5,-0.5) (80.0,-1.2) (80.1,2) (80.2,15.5) (80.3,21.9) (80.5,24.4) (80.8,25.9) (81.05,25.5) (81.4,24.1) (81.7,22.9)
(81.85,21.9) (82.05,20.4) (82.2,14.2) (82.3,3) (82.4,-0.5) (82.9,-1.2) (83.0,2) (83.1,15.2) (83.2,21.4) (83.4,23.9) (83.7,25.4) (83.95,25.0) (84.3,23.6) (84.6,22.4)
(84.75,21.4) (84.95,19.9) (85.1,14.0) (85.2,3) (85.3,-0.5) (85.8,-1.2) (85.9,2) (86.0,15.4) (86.1,21.7) (86.3,24.2) (86.6,25.7) (86.85,25.3) (87.2,23.9) (87.5,22.7)
(87.65,21.7) (87.85,20.2) (88.0,14.1) (88.1,3) (88.2,-0.5) (88.7,-1.2) (88.8,2) (88.9,15.1) (89.0,21.2) (89.2,23.7) (89.5,25.2) (89.75,24.8) (90.1,23.4) (90.4,22.2)
(90.55,21.2) (90.75,19.7) (90.9,13.9) (91.0,3) (91.1,-0.5) (91.6,-1.2) (91.7,2) (91.8,14.9) (91.9,20.9) (92.1,23.4) (92.4,24.9) (92.65,24.5) (93.0,23.1) (93.3,21.9)
(93.45,20.9) (93.65,19.4) (93.8,13.7) (93.9,3) (94.0,-0.5) (94.5,-1.2) (94.6,2) (94.7,15.0) (94.8,21.0) (95.0,23.5) (95.3,25.0) (95.55,24.6) (95.9,23.2) (96.2,22.0)
(96.35,21.0) (96.55,19.5) (96.7,13.8) (96.8,3) (96.9,-0.5) (97.4,-1.2) (97.5,2) (97.6,15.0) (97.7,21.0) (97.8,12) (97.85,1) (97.95,16) (98.0,9) (98.1,21) (98.2,23.5) (98.45,25.0) (98.7,24.6) (98.95,23.2) (99.1,22.0)
(99.25,21.0) (99.45,19.5) (99.6,13.8) (99.7,3) (99.8,-0.5) (100.3,-1.2) (100.4,2) (100.5,15.0) (100.6,21.0) (100.8,23.5) (101.1,25.0) (101.35,24.6) (101.7,23.2) (102.0,22.0)
(102.25,21.0) (102.45,19.5) (102.6,13.8) (102.7,3) (102.8,-0.5) (103.3,-1.2) (103.4,2) (103.5,14.6) (103.6,20.3) (103.8,22.8) (104.1,24.3) (104.35,23.9) (104.7,22.5) (105.0,21.3)
(105.15,20.3) (105.35,18.8) (105.5,13.4) (105.6,3) (105.7,-0.5) (106.2,-1.2) (106.3,2) (106.4,14.4) (106.5,20.0) (106.7,22.5) (107.0,24.0) (107.25,23.6) (107.6,22.2) (107.9,21.0)
(108.05,20.0) (108.25,18.5) (108.4,13.2) (108.5,3) (108.6,-0.5) (109.1,-1.2) (109.2,2) (109.3,14.4) (109.4,20.0) (109.6,22.5) (109.9,24.0) (110.15,23.6) (110.5,22.2) (110.8,21.0)
(110.95,20.0) (111.15,18.5) (111.3,13.2) (111.4,3) (111.5,-0.5) (112.0,-1.2) (112.1,2) (112.2,14.5) (112.3,20.2) (112.5,22.7) (112.8,24.2) (113.05,23.8) (113.4,22.4) (113.7,21.2)
(113.85,20.2) (114.05,18.7) (114.2,13.3) (114.3,3) (114.4,-0.5) (114.9,-1.2) (115.0,2) (115.1,14.3) (115.2,19.8) (115.4,22.3) (115.7,23.8) (115.95,23.4) (116.3,22.0) (116.6,20.8)
(116.75,19.8) (116.95,18.3) (117.1,13.1) (117.2,3) (117.3,-0.5) (117.8,-1.2) (117.9,2) (118.0,13.9) (118.1,19.1) (118.3,21.6) (118.6,23.1) (118.85,22.7) (119.2,21.3) (119.5,20.1)
(119.65,19.1) (119.85,17.6) (120.0,12.7) (120.1,3) (120.2,-0.5) (120.7,-1.2) (120.8,2) (120.9,14.0) (121.0,19.3) (121.2,21.8) (121.5,23.3) (121.75,22.9) (122.1,21.5) (122.4,20.3)
(122.55,19.3) (122.75,17.8) (122.9,12.8) (123.0,3) (123.1,-0.5) (123.6,-1.2) (123.7,2) (123.8,13.6) (123.9,18.6) (124.1,21.1) (124.4,22.6) (124.65,22.2) (125.0,20.8) (125.3,19.6)
(125.45,18.6) (125.65,17.1) (125.8,12.4) (125.9,3) (126.0,-0.5) (126.5,-1.2) (126.6,2) (126.7,13.6) (126.8,18.6) (127.0,21.1) (127.3,22.6) (127.55,22.2) (127.9,20.8) (128.2,19.6)
(128.35,18.6) (128.55,17.1) (128.7,12.4) (128.8,3) (128.9,-0.5) (129.4,-1.2) (129.5,2) (129.6,13.8) (129.7,19.0) (129.9,21.5) (130.2,23.0) (130.45,22.6) (130.8,21.2) (131.1,20.0)
(131.35,19.0) (131.55,17.5) (131.7,12.7) (131.8,3) (131.9,-0.5) (132.4,-1.2) (132.5,2) (132.6,13.8) (132.7,19.0) (132.9,21.5) (133.2,23.0) (133.45,22.6) (133.8,21.2) (134.1,20.0)
(134.25,19.0) (134.45,17.5) (134.6,12.7) (134.7,3) (134.8,-0.5) (135.3,-1.2) (135.4,2) (135.5,13.6) (135.6,18.6) (135.8,21.1) (136.1,22.6) (136.35,22.2) (136.7,20.8) (137.0,19.6)
(137.15,18.6) (137.35,17.1) (137.5,12.4) (137.6,3) (137.7,-0.5) (138.2,-1.2) (138.3,2)
};
\addplot[sig, line width=0.6pt] coordinates {(-0.2,37.8) (-0.2,36.3) (0.5,36.3)};
\draw[bar] (axis cs:-1.7,-1) -- (axis cs:-1.7,41);
\node[tk] at (axis cs:-1.7,40) {40};
\node[tk] at (axis cs:-1.7,0) {0};
% 30 s time scale
\draw[black, line width=1.1pt] (axis cs:4.7,-8.2) -- (axis cs:34.6,-8.2);
\end{axis}

% ---------------- labels ----------------
\node[lab, anchor=east] at (62.5pt,368.5pt) {Airflow (l/s)};
\node[lab] at (34pt,287.5pt) {Airway P};
\node[lab] at (34.75pt,276.5pt) {(cm H\textsubscript{2}O)};
\node[lab] at (34pt,201.65pt) {V\textsubscript{T} (l)};
\node[lab] at (34.5pt,91pt) {P{\fontsize{9}{10}\selectfont ETCO}\textsubscript{2}};
\node[lab] at (32pt,77.5pt) {(mm Hg)};
\node[lab] at (144.5pt,6.65pt) {30 sec};

\node[lab] at (146pt,421pt) {Baseline arterial blood sample};
\draw[line width=0.6pt, -{Triangle[length=6pt,width=5pt]}] (146.5pt,411.5pt) -- (146.5pt,384.5pt);
\node[lab] at (492pt,421pt) {PSV arterial blood sample};
\draw[line width=0.6pt, -{Triangle[length=6pt,width=5pt]}] (494pt,411.5pt) -- (494pt,385pt);
\node[inner sep=0pt] at (290pt,406pt) {\fontsize{20}{20}\selectfont$\ast$};
\end{tikzpicture}
\end{document}
